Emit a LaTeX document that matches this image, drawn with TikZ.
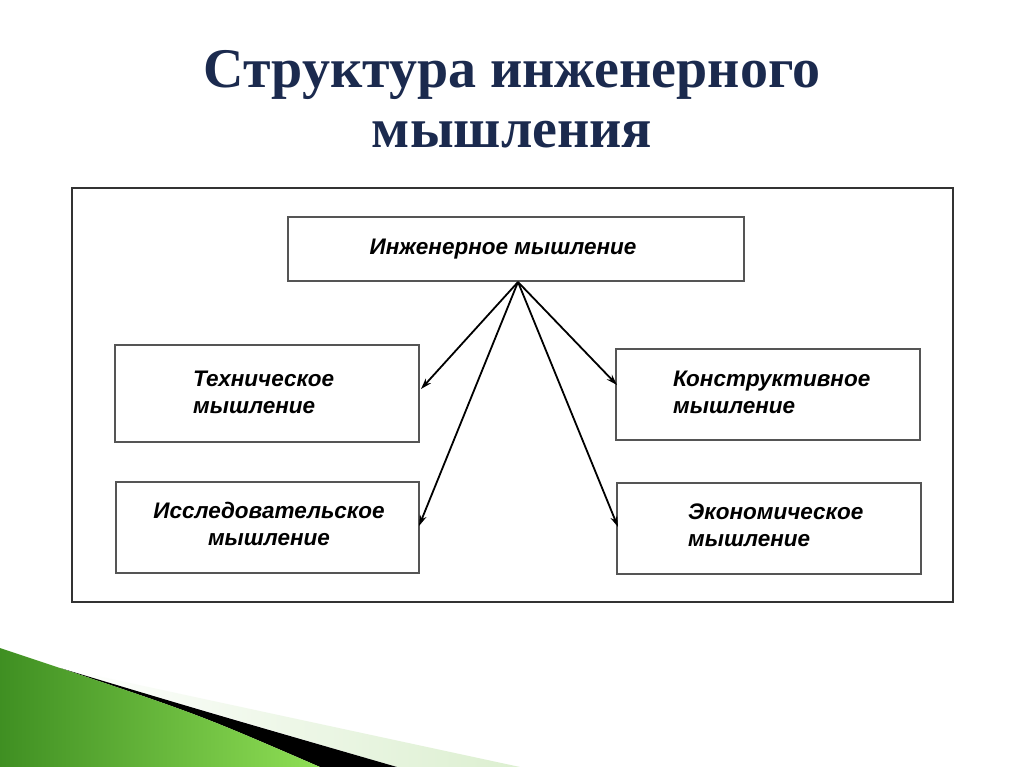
\documentclass[tikz,border=0pt]{standalone}
\usepackage{fontspec}
\setmainfont{Liberation Serif}
\newfontfamily\boxfont{Liberation Sans}
\usetikzlibrary{arrows.meta}
\definecolor{titlenavy}{HTML}{1B2A4E}
\definecolor{boxgray}{HTML}{555555}
\definecolor{gdark}{HTML}{3F8F22}
\definecolor{glight}{HTML}{8FDF55}
\definecolor{gpale}{HTML}{DCEFD0}
\tikzset{
  blk/.style={draw=boxgray, line width=1.5pt, fill=white},
  lbl/.style={font=\boxfont\bfseries\itshape\fontsize{22.5}{27}\selectfont, align=left, anchor=base west, inner sep=0pt},
  ttl/.style={font=\bfseries\fontsize{56}{60}\selectfont, text=titlenavy, anchor=base, inner sep=0pt},
  conn/.style={line width=1.8pt, -{Stealth[length=11pt,width=7pt]}},
}
\begin{document}
\begin{tikzpicture}[x=1pt,y=-1pt]
\useasboundingbox (0,0) rectangle (1024,767);
\fill[white] (0,0) rectangle (1024,767);
% bottom decoration
\shade[left color=white, right color=gpale]
  (60,668) -- (520,767) -- (397,767) -- cycle;
\fill[black] (60,668) .. controls (200,710) .. (397,767) -- (320,767) .. controls (200,715) .. (60,668) -- cycle;
\shade[left color=gdark, right color=glight]
  (0,648) -- (60,668) .. controls (200,715) .. (320,767) -- (0,767) -- cycle;
% title
\node[ttl] (title1) at (512,88) {Структура инженерного};
\node[ttl] (title2) at (512,148) {мышления};
% frame
\draw[line width=1.2pt, draw=black!80] (72,188) rectangle (953,602);
% boxes
\node[blk, minimum width=456pt, minimum height=64pt] (top) at (516,249) {};
\node[lbl, anchor=base] (toptext) at (503,254) {Инженерное мышление};
\node[blk, minimum width=304pt, minimum height=97pt] (tech) at (267,393.5) {};
\node[lbl] (techtext) at (193,413) {Техническое\\мышление};
\node[blk, minimum width=304pt, minimum height=91pt] (konst) at (768,394.5) {};
\node[lbl] (konsttext) at (673,413) {Конструктивное\\мышление};
\node[blk, minimum width=303pt, minimum height=91pt] (issl) at (267.5,527.5) {};
\node[lbl, align=center, anchor=base] (issltext) at (269,545) {Исследовательское\\мышление};
\node[blk, minimum width=304pt, minimum height=91pt] (econ) at (769,528.5) {};
\node[lbl] (econtext) at (688,546) {Экономическое\\мышление};
% connectors
\coordinate (src) at (518,282);
\coordinate (t1) at (421,389);
\coordinate (t2) at (419,526);
\coordinate (t3) at (617,385);
\coordinate (t4) at (618,527);
\draw[conn] (src) -- (t1);
\draw[conn] (src) -- (t2);
\draw[conn] (src) -- (t3);
\draw[conn] (src) -- (t4);
\end{tikzpicture}
\end{document}
